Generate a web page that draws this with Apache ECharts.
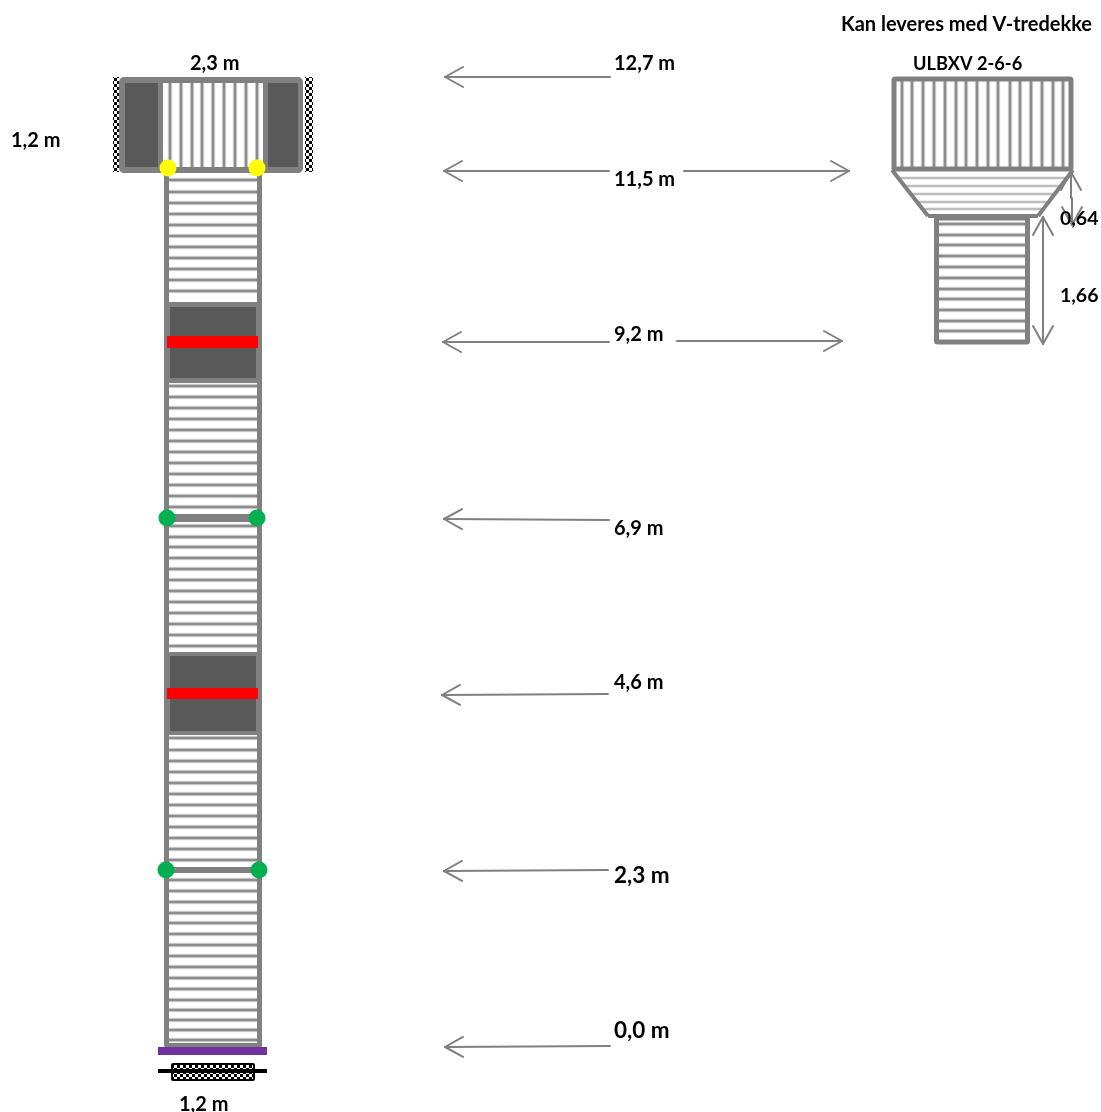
<!DOCTYPE html>
<html><head><meta charset="utf-8">
<style>html,body{margin:0;padding:0;background:#fff}#c{width:1101px;height:1112px}</style>
<script src="https://cdn.jsdelivr.net/npm/echarts@6/dist/echarts.min.js"></script>
</head><body><div id="c"></div>
<script>
// Drawing units: x 0-1101 to the right, y 0-1112 downward.
const ladderRungs = [180,192,203,214,225,236,247,258,269,280,291,
  386,397,408,419,430,441,452,463,474,485,496,507,
  526,537,547,558,569,580,591,602,613,624,635,646,
  738,750,761,772,783,794,805,816,827,838,849,860,
  880,891,902,913,923,934,945,956,967,978,989,1000,1010,1020,1030,1040];
const platformBars = [170,181,192,202,213,224,235,246,257];
const vTopBars = [902,912,923,934,945,956,966,977,988,998,1010,1020,1031,1042,1053,1063];
const vTaperRungs = [[178,898,1067],[186,905,1061],[194,911,1055],[202,917,1049],[209,923,1043]];
const vBoxRungs = [224,235,245,256,267,278,289,299,310,321,331];
const railsX = [166.5,259.5];
const railSpan = [172,1045];
const darkBlocks = [[165,302,261,383],[165,652,261,735]];
const darkFills = [[170,307,256,378],[170,656,256,731]];
const redBars = [[167,336,258,348],[167,688,258,699]];
const platformPanels = [[125,83,158,167],[268,83,298,167]];
const platformSides = [[122,80,163,170],[263,80,300,170]];
const platformFrame = [[122,80,300,170]];
const thickBands = [[167,518,257,518,8],[166,870,259,870,6]];
const purpleBase = [[158,1047,267,1055]];
const blackBar = [[158,1071,267,1071]];
const checkerStrips = [[113,77,119,172],[305,77,313,172]];
const checkerBase = [[172,1064,254,1080]];
const yellowDots = [[168,168],[257,168]];
const greenDots = [[167,518],[257,518],[166,870],[259,870]];
const vTopFrame = [[894,79,1071,169]];
const vBoxFrame = [[936.5,218,1027.5,342]];
const vTaperEdges = [[892,170,928,216],[1073,170,1038,216],[928,216,1038,216]];
const arrows = [[445,77,610,77],[444,171,609,171],[849,171,684,171],[443,342,609,342],[842,341,677,341],
  [444,519,609,520],[442,695,608,694],[444,871,608,870],[445,1047,610,1046],
  [1071,172,1071,198],[1072,225,1072,198],[1043,217,1043,280],[1043,344,1043,280]];
const labelTexts = ['Kan leveres med V-tredekke','2,3 m','12,7 m','ULBXV 2-6-6','1,2 m','11,5 m','0,64','1,66','9,2 m','6,9 m','4,6 m','2,3 m','0,0 m','1,2 m'];
const labelAnchors = [[841,25],[190,64],[614,64],[913,64],[11,141],[614,180],[1060,219],[1060,296],[614,335],[614,529],[614,683],[614,876],[614,1031],[179,1105]];
const labelSizes = [20,20,20,18.2,20,20,19.5,19.5,20,20,20,22.5,22.5,20];

const GREY='#808080', HALO='#dadada', BAR='#8c8c8c', DARK='#595959';

function segSeries(rows,color,width,cap){
  return {type:'custom',silent:true,animation:false,clip:false,data:rows,
    renderItem(p,api){
      const a=api.coord([api.value(0),api.value(1)]), b=api.coord([api.value(2),api.value(3)]);
      const w=rows[p.dataIndex][4]||width;
      return {type:'line',shape:{x1:a[0],y1:a[1],x2:b[0],y2:b[1]},style:{stroke:color,lineWidth:w,lineCap:cap||'butt',fill:null}};
    }};
}
function rectSeries(rows,fill,stroke,lw,r){
  return {type:'custom',silent:true,animation:false,clip:false,data:rows,
    renderItem(p,api){
      const a=api.coord([api.value(0),api.value(1)]), b=api.coord([api.value(2),api.value(3)]);
      return {type:'rect',shape:{x:a[0],y:a[1],width:b[0]-a[0],height:b[1]-a[1],r:r||0},
        style:{fill:fill,stroke:stroke||null,lineWidth:lw||0}};
    }};
}
function dotSeries(rows,fill,rad){
  return {type:'custom',silent:true,animation:false,clip:false,data:rows,
    renderItem(p,api){
      const a=api.coord([api.value(0),api.value(1)]);
      return {type:'circle',shape:{cx:a[0],cy:a[1],r:rad},style:{fill:fill}};
    }};
}
function checker(cell){
  const c=document.createElement('canvas');c.width=c.height=cell*2;
  const g=c.getContext('2d');g.fillStyle='#fff';g.fillRect(0,0,cell*2,cell*2);
  g.fillStyle='#000';g.fillRect(0,0,cell,cell);g.fillRect(cell,cell,cell,cell);
  return {image:c,repeat:'repeat'};
}
const horiz=(ys,x1,x2)=>ys.map(y=>[x1,y,x2,y]);
const vert=(xs,y1,y2)=>xs.map(x=>[x,y1,x,y2]);
const taper=vTaperRungs.map(r=>[r[1],r[0],r[2],r[0]]);

const arrowRows=[];
arrows.forEach(([tx,ty,ex,ey])=>{
  const L=Math.hypot(ex-tx,ey-ty),ux=(ex-tx)/L,uy=(ey-ty)/L,h=18,s=10;
  arrowRows.push([tx,ty,ex,ey]);
  arrowRows.push([tx,ty,tx+ux*h-uy*s,ty+uy*h+ux*s]);
  arrowRows.push([tx,ty,tx+ux*h+uy*s,ty+uy*h-ux*s]);
});

const series=[
  rectSeries(checkerStrips,checker(3)),
  rectSeries(platformFrame,'#fff',GREY,6,2),
  rectSeries(platformSides,GREY),
  rectSeries(platformPanels,DARK),
  segSeries(vert(platformBars,83,167),HALO,4.5),
  segSeries(vert(platformBars,83,167),BAR,2.5),
  segSeries(horiz([170],122,300),GREY,6),
  segSeries(horiz(ladderRungs,167,259),HALO,4.5),
  segSeries(horiz(ladderRungs,167,259),BAR,2.5),
  rectSeries(darkBlocks,GREY),
  rectSeries(darkFills,DARK),
  segSeries(railsX.map(x=>[x,railSpan[0],x,railSpan[1]]),GREY,5,'round'),
  segSeries(horiz([railSpan[1]],railsX[0],railsX[1]),GREY,4,'round'),
  rectSeries(redBars,'#ff0000'),
  segSeries(thickBands,GREY,6),
  dotSeries(yellowDots,'#ffff00',8.5),
  dotSeries(greenDots,'#00b050',8.5),
  rectSeries(purpleBase,'#7030a0'),
  rectSeries(checkerBase,checker(3),'#000',2,1),
  segSeries(blackBar,'#000',4),
  segSeries(vert(vTopBars,80,168),HALO,4.5),
  segSeries(vert(vTopBars,80,168),BAR,2.5),
  rectSeries(vTopFrame,null,GREY,5,1),
  segSeries(taper,'#bdbdbd',2.5),
  segSeries(vTaperEdges,GREY,4),
  segSeries(horiz(vBoxRungs,937,1027),HALO,4.5),
  segSeries(horiz(vBoxRungs,937,1027),BAR,2.5),
  rectSeries(vBoxFrame,null,GREY,5,1),
  segSeries(arrowRows,'#808080',2,'round'),
  {type:'custom',silent:true,animation:false,clip:false,data:labelAnchors,
    renderItem(p,api){
      const a=api.coord([api.value(0),api.value(1)]);
      return {type:'text',style:{x:a[0],y:a[1],text:labelTexts[p.dataIndex],fill:'#000',
        font:'bold '+labelSizes[p.dataIndex]+'px Lato',align:'left',verticalAlign:'middle'}};
    }}
];
series.forEach(s=>{s.encode={x:0,y:1};});
const chart=echarts.init(document.getElementById('c'),null,{renderer:'canvas'});
chart.setOption({animation:false,
  grid:{left:0,right:0,top:0,bottom:0},
  xAxis:{type:'value',min:0,max:1101,show:false},
  yAxis:{type:'value',min:0,max:1112,inverse:true,show:false},
  tooltip:{show:false},legend:{show:false},
  series});
</script></body></html>
